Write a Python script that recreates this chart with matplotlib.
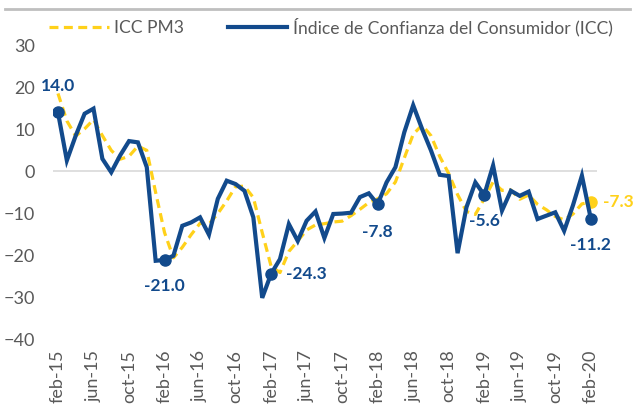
import numpy as np
import matplotlib.pyplot as plt
from matplotlib.lines import Line2D

plt.rcParams['font.family'] = ['Lato', 'DejaVu Sans']

# monthly data, feb-15 .. feb-20
icc = [14.0, 2.6, 8.5, 13.7, 14.9, 3.0, -0.2, 3.8, 7.2, 6.9,
       1.0, -21.2, -21.0, -20.0, -12.9, -12.1, -10.9, -15.0, -6.5, -2.2,
       -3.0, -4.6, -10.9, -30.0, -24.3, -20.8, -12.5, -16.5, -11.7, -9.5,
       -15.8, -10.1, -10.0, -9.8, -6.1, -5.2, -7.8, -2.6, 1.0, 9.3,
       15.7, 10.1, 5.0, -0.8, -1.1, -19.4, -8.5, -2.6, -5.6, 1.4,
       -9.3, -4.6, -5.8, -4.8, -11.3, -10.5, -9.7, -14.1, -8.0, -1.0,
       -11.2]
icc_pm3 = [18.5, 12.0, 8.4, 10.1, 12.3, 8.5, 5.0, 2.9, 3.6, 6.0,
           5.0, -5.0, -14.5, -20.5, -18.0, -15.0, -12.3, -12.5, -10.0, -7.0,
           -3.6, -3.5, -6.2, -14.5, -22.5, -24.0, -19.0, -16.5, -13.9, -12.7,
           -12.4, -12.0, -11.8, -10.5, -9.0, -7.4, -6.5, -5.3, -2.5, 3.2,
           8.8, 11.0, 8.5, 3.5, -0.5, -5.5, -9.5, -10.2, -6.5, -2.5,
           -4.5, -4.4, -6.6, -5.6, -7.8, -9.1, -10.7, -11.5, -10.1, -7.7,
           -7.3]
tick_labels = ['feb-15', 'jun-15', 'oct-15', 'feb-16', 'jun-16', 'oct-16',
               'feb-17', 'jun-17', 'oct-17', 'feb-18', 'jun-18', 'oct-18',
               'feb-19', 'jun-19', 'oct-19', 'feb-20']
# points of the ICC series that carry a marker and a label
blue_marks = [0, 12, 24, 36, 48, 60]

blue = '#124A8C'
yellow = '#FFD11A'
grey = '#595959'

x = np.arange(len(icc))

fig = plt.figure(figsize=(6.36, 4.07), dpi=100)
ax = fig.add_axes([53/636, 1-340/407, (597-53)/636, (340-45)/407])

ax.axhline(0, color='#D9D9D9', lw=1.2, zorder=1)
ax.plot(x, icc_pm3, color=yellow, lw=2.3, dashes=(2.8, 1.7), zorder=2,
        label='ICC PM3')
ax.plot(x, icc, color=blue, lw=3, solid_joinstyle='miter', zorder=3,
        label='Índice de Confianza del Consumidor (ICC)')
ax.plot(x[blue_marks], np.array(icc)[blue_marks], 'o', color=blue, ms=8, zorder=4)
ax.plot(x[-1], icc_pm3[-1], 'o', color=yellow, ms=8, zorder=2)

lab = dict(color=blue, fontsize=12.5, fontweight='bold')
ax.annotate('14.0', (0, icc[0]), xytext=(0, 13), textcoords='offset points',
            ha='center', va='bottom', **lab)
ax.annotate('-21.0', (12, icc[12]), xytext=(0, -13), textcoords='offset points',
            ha='center', va='top', **lab)
ax.annotate('-24.3', (24, icc[24]), xytext=(11, 0), textcoords='offset points',
            ha='left', va='center', **lab)
ax.annotate('-7.8', (36, icc[36]), xytext=(0, -14), textcoords='offset points',
            ha='center', va='top', **lab)
ax.annotate('-5.6', (48, icc[48]), xytext=(0, -13), textcoords='offset points',
            ha='center', va='top', **lab)
ax.annotate('-11.2', (60, icc[60]), xytext=(0, -13), textcoords='offset points',
            ha='center', va='top', **lab)
ax.annotate('-7.3', (60, icc_pm3[60]), xytext=(9, 0), textcoords='offset points',
            ha='left', va='center', color=yellow, fontsize=12.5, fontweight='bold')

ax.set_xlim(-0.56, 60.7)
ax.set_ylim(-40, 30)
ax.set_yticks(range(-40, 31, 10))
ax.set_xticks(range(0, 61, 4))
ax.set_xticklabels(tick_labels, rotation=90)
ax.tick_params(axis='both', length=0, labelsize=13, labelcolor=grey)
ax.tick_params(axis='y', pad=13)
ax.tick_params(axis='x', pad=7)
for s in ax.spines.values():
    s.set_visible(False)

fig.legend(loc='center', bbox_to_anchor=(331/636, 1-27/407), ncol=2,
           frameon=False, fontsize=12.6, handlelength=3.4, handletextpad=0.3,
           columnspacing=2.5, labelcolor=grey, borderaxespad=0, borderpad=0)

# cut-off title and separator at the very top
fig.text(322/636, 1+3.5/407, '(balance de respuestas)', ha='center',
         va='baseline', fontsize=15, fontweight='bold', color=grey)
fig.add_artist(Line2D([5/636, 630/636], [1-9/407, 1-9/407],
                      transform=fig.transFigure, color='#BFBFBF', lw=2))

fig.savefig('out.png', dpi=100)
